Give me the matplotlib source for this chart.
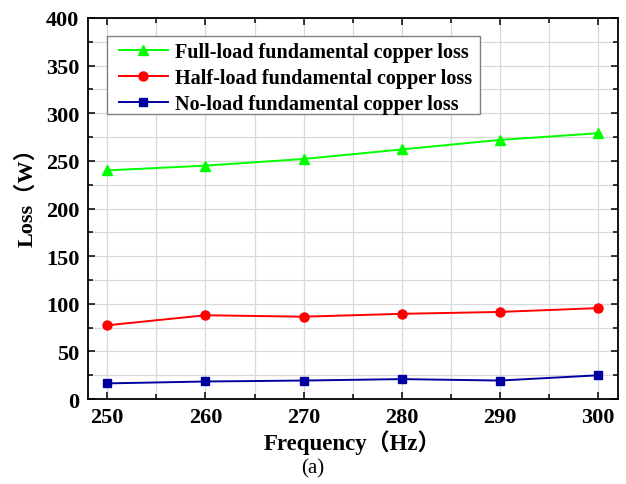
import matplotlib
matplotlib.use("Agg")
import matplotlib.pyplot as plt
from matplotlib.patches import Rectangle
from matplotlib.ticker import MultipleLocator

# Copper loss versus supply frequency
frequency = [250, 260, 270, 280, 290, 300]
full_load = [240, 245, 252, 262, 272, 279]
half_load = [77.5, 88, 86.5, 89.5, 91.5, 95.5]
no_load = [16.5, 18.5, 19.5, 21, 19.5, 25]

labels = ["Full-load fundamental copper loss",
          "Half-load fundamental copper loss",
          "No-load fundamental copper loss"]
x_ticks = [250, 260, 270, 280, 290, 300]
y_ticks = [0, 50, 100, 150, 200, 250, 300, 350, 400]

serif = ["Liberation Serif", "Noto Sans CJK SC"]
plt.rcParams["font.family"] = serif

fig = plt.figure(figsize=(6.26, 4.85), dpi=100)
ax = fig.add_axes([0.140, 0.175, 0.847, 0.786])

ax.plot(frequency, full_load, color="#00FF00", marker="^", markersize=7,
        linewidth=1.4, label=labels[0], zorder=3)
ax.plot(frequency, half_load, color="#FF0000", marker="o", markersize=6.5,
        linewidth=1.4, label=labels[1], zorder=3)
ax.plot(frequency, no_load, color="#0000A0", marker="s", markersize=5.5,
        linewidth=1.4, label=labels[2], zorder=3)

ax.set_xlim(248, 302)
ax.set_ylim(0, 400)
ax.set_xticks(x_ticks)
ax.set_yticks(y_ticks)
ax.xaxis.set_minor_locator(MultipleLocator(5))
ax.yaxis.set_minor_locator(MultipleLocator(25))

ax.grid(True, which="both", color="#d9d9d9", linewidth=0.9, zorder=0)
ax.set_axisbelow(True)

ax.tick_params(which="both", direction="in", top=True, right=True,
               width=1.1, colors="black")
ax.tick_params(which="major", length=5)
ax.tick_params(which="minor", length=3.5)
for s in ax.spines.values():
    s.set_linewidth(1.3)

for lbl in ax.get_xticklabels() + ax.get_yticklabels():
    lbl.set_fontweight("bold")
    lbl.set_fontsize(16)
ax.tick_params(axis="x", pad=6)
ax.tick_params(axis="y", pad=6)

ax.set_xlabel("Frequency（Hz）", fontsize=16.5, fontweight="bold", labelpad=1)
ax.set_ylabel("Loss（W）", fontsize=16, fontweight="bold")
ax.yaxis.set_label_coords(-0.094, 0.545)

# legend box drawn separately so its padding can differ per direction
ax.add_patch(Rectangle((0.0366, 0.748), 0.7035, 0.2045,
                       transform=ax.transAxes, facecolor="white",
                       edgecolor="#808080", linewidth=1.0, zorder=4))
leg = ax.legend(loc="upper left", bbox_to_anchor=(0.052, 0.947),
                prop={"family": serif, "weight": "bold", "size": 14.5},
                frameon=False, handlelength=2.4, handletextpad=0.35,
                labelspacing=0.3, borderpad=0.2, borderaxespad=0)
leg.set_zorder(5)

fig.text(0.5, 0.033, "(a)", ha="center", va="center", fontsize=15)

fig.savefig("out.png", dpi=100)
